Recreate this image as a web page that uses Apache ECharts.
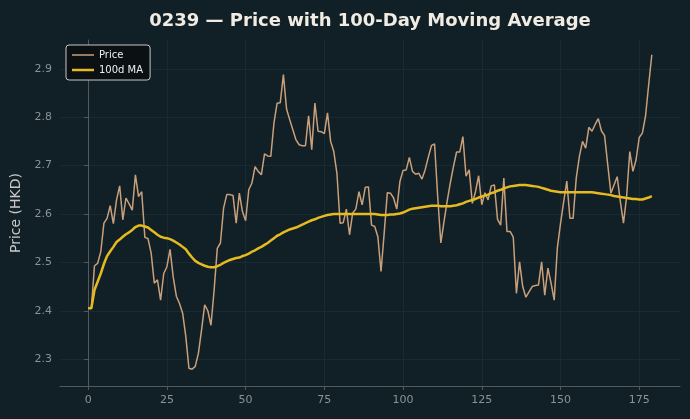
<!DOCTYPE html>
<html>
<head>
<meta charset="utf-8">
<script src="https://cdn.jsdelivr.net/npm/echarts@6/dist/echarts.min.js"></script>
<style>
  html, body { margin: 0; padding: 0; background: #111f26; }
  #chart { width: 690px; height: 419px; }
</style>
</head>
<body>
<div id="chart"></div>
<script>
// closing price, one value per trading day (index 0..179)
const price = [
  2.405, 2.405, 2.493, 2.498, 2.522, 2.581, 2.591, 2.617, 2.580, 2.629,
  2.658, 2.588, 2.633, 2.621, 2.608, 2.681, 2.636, 2.646, 2.552, 2.549,
  2.519, 2.457, 2.464, 2.422, 2.477, 2.491, 2.527, 2.470, 2.430, 2.415,
  2.395, 2.347, 2.281, 2.279, 2.285, 2.312, 2.360, 2.412, 2.400, 2.370,
  2.443, 2.529, 2.540, 2.612, 2.640, 2.640, 2.638, 2.581, 2.643, 2.605,
  2.586, 2.650, 2.664, 2.698, 2.688, 2.681, 2.724, 2.720, 2.719, 2.788,
  2.829, 2.830, 2.888, 2.817, 2.795, 2.774, 2.753, 2.743, 2.741, 2.741,
  2.803, 2.733, 2.829, 2.771, 2.770, 2.766, 2.809, 2.750, 2.729, 2.684,
  2.581, 2.582, 2.610, 2.557, 2.602, 2.610, 2.646, 2.619, 2.655, 2.656,
  2.577, 2.574, 2.553, 2.481, 2.560, 2.644, 2.643, 2.633, 2.610, 2.667,
  2.690, 2.691, 2.717, 2.688, 2.682, 2.684, 2.672, 2.691, 2.717, 2.741,
  2.745, 2.636, 2.540, 2.584, 2.626, 2.664, 2.698, 2.728, 2.728, 2.760,
  2.678, 2.691, 2.622, 2.646, 2.679, 2.619, 2.644, 2.629, 2.658, 2.660,
  2.589, 2.577, 2.674, 2.564, 2.564, 2.552, 2.436, 2.501, 2.450, 2.428,
  2.439, 2.450, 2.452, 2.453, 2.501, 2.432, 2.488, 2.457, 2.422, 2.530,
  2.580, 2.625, 2.668, 2.591, 2.591, 2.674, 2.719, 2.750, 2.736, 2.779,
  2.771, 2.785, 2.797, 2.772, 2.762, 2.702, 2.643, 2.660, 2.677, 2.626,
  2.581, 2.636, 2.729, 2.688, 2.712, 2.758, 2.767, 2.802, 2.867, 2.929
];

// 100-day moving average as drawn
const ma100 = [
  2.405, 2.405, 2.443, 2.460, 2.477, 2.497, 2.513, 2.523, 2.532, 2.542,
  2.547, 2.553, 2.558, 2.562, 2.567, 2.573, 2.576, 2.576, 2.574, 2.572,
  2.567, 2.562, 2.557, 2.553, 2.551, 2.550, 2.548, 2.545, 2.541, 2.537,
  2.532, 2.527, 2.518, 2.510, 2.503, 2.499, 2.496, 2.493, 2.491, 2.490,
  2.490, 2.492, 2.495, 2.499, 2.502, 2.505, 2.507, 2.509, 2.510, 2.513,
  2.515, 2.518, 2.522, 2.525, 2.529, 2.532, 2.536, 2.540, 2.545, 2.550,
  2.555, 2.558, 2.562, 2.565, 2.568, 2.570, 2.572, 2.575, 2.578, 2.581,
  2.584, 2.587, 2.589, 2.592, 2.594, 2.596, 2.598, 2.599, 2.600, 2.600,
  2.600, 2.600, 2.600, 2.600, 2.600, 2.600, 2.600, 2.600, 2.600, 2.600,
  2.600, 2.600, 2.599, 2.598, 2.598, 2.598, 2.599, 2.599, 2.600, 2.601,
  2.603, 2.606, 2.609, 2.611, 2.612, 2.613, 2.614, 2.615, 2.616, 2.617,
  2.617, 2.617, 2.616, 2.616, 2.616, 2.616, 2.617, 2.618, 2.620, 2.622,
  2.625, 2.627, 2.629, 2.631, 2.634, 2.636, 2.638, 2.640, 2.643, 2.645,
  2.648, 2.650, 2.653, 2.655, 2.657, 2.658, 2.659, 2.660, 2.660, 2.660,
  2.659, 2.658, 2.657, 2.656, 2.654, 2.652, 2.650, 2.648, 2.647, 2.646,
  2.645, 2.645, 2.645, 2.645, 2.645, 2.645, 2.645, 2.645, 2.645, 2.645,
  2.645, 2.644, 2.643, 2.642, 2.641, 2.640, 2.639, 2.637, 2.636, 2.635,
  2.634, 2.633, 2.632, 2.631, 2.631, 2.630, 2.630, 2.632, 2.634, 2.637
];

const xTicks = [0, 25, 50, 75, 100, 125, 150, 175];
const yTicks = [2.3, 2.4, 2.5, 2.6, 2.7, 2.8, 2.9];

const chart = echarts.init(document.getElementById('chart'), null, { renderer: 'canvas' });

const axisGrey = '#55595b';
const gridGrey = '#1a2a31';
const labelGrey = '#8c9295';
const priceColor = '#c9a07a';
const maColor = '#e6bb1f';

let option = {
  backgroundColor: '#111f26',
  animation: false,
  title: {
    text: '0239 — Price with 100-Day Moving Average',
    left: 365,
    textAlign: 'center',
    top: 7,
    textStyle: {
      color: '#f0ebe3',
      fontFamily: 'DejaVu Sans',
      fontWeight: 'bold',
      fontSize: 18
    }
  },
  legend: {
    left: 66,
    top: 45,
    orient: 'vertical',
    itemGap: 5,
    itemWidth: 22,
    itemHeight: 8,
    padding: [5, 7, 5, 6],
    backgroundColor: '#0b1013',
    borderColor: '#c8c8c8',
    borderWidth: 1,
    borderRadius: 3,
    textStyle: { color: '#eeeeee', fontFamily: 'DejaVu Sans', fontSize: 10 },
    data: [
      { name: 'Price', icon: 'path://M0,0H22V1.5H0Z', itemStyle: { color: priceColor } },
      { name: '100d MA', icon: 'path://M0,0H22V2.5H0Z', itemStyle: { color: maColor } }
    ]
  },
  grid: { left: 60, right: 10, top: 40, bottom: 33, containLabel: false, outerBoundsMode: 'none' },
  xAxis: {
    type: 'value',
    min: -8.95,
    max: 187.95,
    axisLine: { show: true, onZero: false, lineStyle: { color: axisGrey, width: 1 } },
    axisTick: { show: true, length: 4, customValues: xTicks, lineStyle: { color: axisGrey } },
    axisLabel: {
      customValues: xTicks,
      color: labelGrey, fontFamily: 'DejaVu Sans', fontSize: 11, margin: 9
    },
    splitLine: { show: true, lineStyle: { color: gridGrey, width: 1 } }
  },
  yAxis: {
    type: 'value',
    min: 2.2445,
    max: 2.9595,
    name: 'Price (HKD)',
    nameLocation: 'middle',
    nameGap: 37,
    nameTextStyle: { color: '#c9c9c9', fontFamily: 'DejaVu Sans', fontSize: 14 },
    axisLine: { show: true, lineStyle: { color: axisGrey, width: 1 } },
    axisTick: { show: true, length: 4, customValues: yTicks, lineStyle: { color: axisGrey } },
    axisLabel: {
      customValues: yTicks,
      formatter: v => v.toFixed(1),
      color: labelGrey, fontFamily: 'DejaVu Sans', fontSize: 11, margin: 8
    },
    splitLine: { show: true, lineStyle: { color: gridGrey, width: 1 } }
  },
  series: [{
    name: 'Price',
    type: 'line',
    data: price.map((v, i) => [i, v]),
    symbol: 'none',
    lineStyle: { color: priceColor, width: 1.5 },
    itemStyle: { color: priceColor },
    z: 2
  }, {
    name: '100d MA',
    type: 'line',
    data: ma100.map((v, i) => [i, v]),
    symbol: 'none',
    lineStyle: { color: maColor, width: 2.5 },
    itemStyle: { color: maColor },
    z: 3
  }]
};

chart.setOption(option);
</script>
</body>
</html>
